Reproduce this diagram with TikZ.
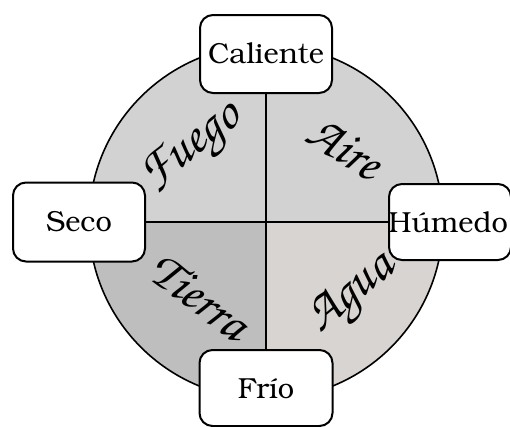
\documentclass[tikz,border=0pt]{standalone}
\usepackage[T1]{fontenc}
\definecolor{fuegoc}{HTML}{D2D2D2}
\definecolor{airec}{HTML}{D2D2D2}
\definecolor{tierrac}{HTML}{BEBEBE}
\definecolor{aguac}{HTML}{D7D4D1}
\newcommand{\scriptfnt}{\fontfamily{pzc}\fontseries{mb}\fontshape{it}\selectfont}
\newcommand{\boxfnt}{\fontfamily{pbk}\fontseries{m}\fontshape{n}\selectfont}
\begin{document}
\begin{tikzpicture}[x=1pt,y=-1pt,
  qbox/.style={draw=black,line width=2pt,fill=white,rounded corners=13pt,inner sep=0pt,font=\boxfnt\fontsize{29}{32}\selectfont},
  elem/.style={font=\scriptfnt\fontsize{52}{56}\selectfont,inner sep=0pt},
  divline/.style={line width=2pt,draw=black}]
\useasboundingbox (0,0) rectangle (510,426);
\coordinate (c) at (266,222);
\begin{scope}
\clip (c) circle[radius=177pt];
\fill[fuegoc] (c) rectangle (80,30);
\fill[airec] (c) rectangle (450,30);
\fill[tierrac] (c) rectangle (80,410);
\fill[aguac] (c) rectangle (450,410);
\end{scope}
\draw[line width=1.6pt] (c) circle[radius=177pt];
\node[qbox,minimum width=132pt,minimum height=78pt] (cal) at (266,54) {Caliente};
\node[qbox,minimum width=132pt,minimum height=79pt] (sec) at (79,222) {Seco};
\node[qbox,minimum width=122pt,minimum height=76pt,anchor=west] (hum) at (388,222) {\hspace*{-4pt}Húmedo};
\node[qbox,minimum width=133pt,minimum height=76pt] (fri) at (266,388) {Frío};
\draw[divline] (cal.south) -- (fri.north);
\draw[divline] (sec.east) -- (hum.west);
\node[elem,rotate=38] (fuego) at (193,149) {Fuego};
\node[elem,rotate=-32] (aire) at (345,148) {Aire};
\node[elem,rotate=-37] (tierra) at (200,296) {Tierra};
\node[elem,rotate=40] (agua) at (353,296) {Agua};
\end{tikzpicture}
\end{document}
